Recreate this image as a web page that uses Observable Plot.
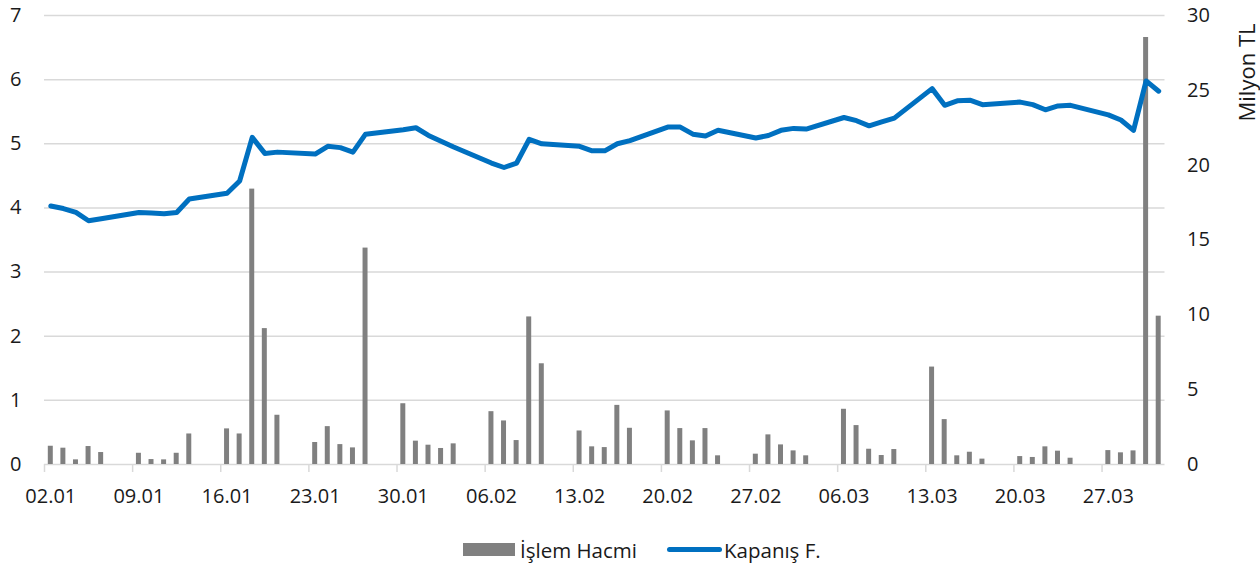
<!DOCTYPE html>
<html>
<head>
<meta charset="utf-8">
<script src="https://cdn.jsdelivr.net/npm/d3@7"></script>
<script src="https://cdn.jsdelivr.net/npm/@observablehq/plot@0.6"></script>
<style>
  html, body { margin: 0; padding: 0; background: #fff; }
  body { width: 1260px; height: 568px; overflow: hidden; font-family: "Open Sans", sans-serif; color: #1a1a1a; }
  #legend { position: relative; height: 48px; font-size: 20.5px; }
  .item { position: absolute; top: 18.5px; display: flex; align-items: center; height: 22px; white-space: nowrap; }
  .sw-bar { width: 52px; height: 12.5px; background: #808080; margin-right: 5px; }
  .sw-line { width: 55px; height: 5px; border-radius: 2.5px; background: #0070C0; margin-right: 2px; }
</style>
</head>
<body>
<div id="chart"></div>
<div id="legend">
  <div class="item" style="left:463px"><div class="sw-bar"></div><span>İşlem Hacmi</span></div>
  <div class="item" style="left:667px"><div class="sw-line"></div><span>Kapanış F.</span></div>
</div>
<script>
const YEAR = 2017;
// trading days (dd.mm)
const days = [
  "02.01","03.01","04.01","05.01","06.01","09.01","10.01","11.01","12.01","13.01",
  "16.01","17.01","18.01","19.01","20.01","23.01","24.01","25.01","26.01","27.01",
  "30.01","31.01",
  "01.02","02.02","03.02","06.02","07.02","08.02","09.02","10.02","13.02","14.02",
  "15.02","16.02","17.02","20.02","21.02","22.02","23.02","24.02","27.02","28.02",
  "01.03","02.03","03.03","06.03","07.03","08.03","09.03","10.03","13.03","14.03",
  "15.03","16.03","17.03","20.03","21.03","22.03","23.03","24.03","27.03","28.03",
  "29.03","30.03","31.03"
];
// İşlem Hacmi (Milyon TL)
const volume = [
  1.22,1.09,0.31,1.20,0.80, 0.75,0.33,0.31,0.75,2.04,
  2.38,2.04,18.4,9.08,3.29, 1.47,2.53,1.33,1.11,14.46,
  4.06,1.56,
  1.29,1.07,1.38, 3.53,2.91,1.60,9.86,6.73, 2.24,1.18,
  1.13,3.95,2.42, 3.58,2.40,1.58,2.40,0.58, 0.69,1.98,
  1.31,0.91,0.58, 3.69,2.60,1.02,0.60,1.00, 6.51,3.00,
  0.58,0.82,0.36, 0.53,0.47,1.18,0.89,0.42, 0.93,0.78,
  0.91,28.53,9.91
];
// Kapanış F.
const closePrice = [
  4.03,3.99,3.93,3.80,3.83, 3.93,3.92,3.91,3.93,4.14,
  4.23,4.42,5.10,4.85,4.87, 4.84,4.96,4.94,4.87,5.15,
  5.22,5.25,
  5.13,5.04,4.95, 4.70,4.63,4.70,5.07,5.00, 4.96,4.89,
  4.89,5.00,5.05, 5.26,5.26,5.15,5.12,5.21, 5.09,5.13,
  5.21,5.24,5.23, 5.41,5.36,5.28,5.34,5.40, 5.86,5.60,
  5.67,5.68,5.61, 5.65,5.61,5.53,5.59,5.60, 5.45,5.37,
  5.21,5.98,5.82
];
const xTickLabels = ["02.01","09.01","16.01","23.01","30.01","06.02","13.02","20.02","27.02","06.03","13.03","20.03","27.03"];
const leftTicks = [0,1,2,3,4,5,6,7];
const rightTicks = [0,5,10,15,20,25,30];
const xStart = "02.01", xEnd = "01.04";

const parse = s => new Date(Date.UTC(YEAR, +s.slice(3,5) - 1, +s.slice(0,2)));
const mid = d => d3.utcHour.offset(d, 12);
const RATIO = 7 / 30; // right axis (Milyon TL) -> left axis units

const data = days.map((d, i) => ({date: parse(d), vol: volume[i], close: closePrice[i]}));
const tickDates = xTickLabels.map(parse);

const chart = Plot.plot({
  width: 1260,
  height: 520,
  marginLeft: 44,
  marginRight: 95.5,
  marginTop: 15,
  marginBottom: 56,
  style: {fontFamily: "Open Sans", fontSize: "20px", color: "#1a1a1a", background: "#fff"},
  x: {type: "utc", domain: [parse(xStart), parse(xEnd)]},
  y: {domain: [0, 7]},
  marks: [
    Plot.ruleY(leftTicks, {stroke: "#d9d9d9", strokeWidth: 1.5}),
    Plot.axisX({
      ticks: tickDates, tickFormat: () => "",
      tickSize: 8, stroke: "#d9d9d9", strokeWidth: 1.5, label: null
    }),
    Plot.axisX({
      ticks: tickDates.map(mid),
      tickFormat: (d, i) => xTickLabels[i],
      tickSize: 0, tickPadding: 24, fontSize: 20, fill: "#1a1a1a", label: null
    }),
    Plot.axisY({ticks: leftTicks, tickFormat: d => String(d), tickSize: 0, tickPadding: 23,
      fontSize: 20, label: null, anchor: "left"}),
    Plot.axisY({
      anchor: "right",
      ticks: rightTicks.map(v => v * RATIO),
      tickFormat: (d, i) => String(rightTicks[i]),
      tickSize: 0, tickPadding: 22, fontSize: 20, label: null
    }),
    Plot.text(["Milyon TL"], {
      frameAnchor: "top-right", text: d => d, rotate: -90,
      textAnchor: "end", dx: 74, dy: 8, fontSize: 22, fill: "#1a1a1a"
    }),
    Plot.rectY(data, {
      x1: d => d.date, x2: d => d3.utcDay.offset(d.date, 1),
      y: d => d.vol * RATIO, fill: "#808080", insetLeft: 3.8, insetRight: 3.8
    }),
    Plot.lineY(data, {
      x: d => mid(d.date), y: "close",
      stroke: "#0070C0", strokeWidth: 5, strokeLinejoin: "round", strokeLinecap: "round"
    })
  ]
});
document.getElementById("chart").appendChild(chart);
</script>
</body>
</html>
